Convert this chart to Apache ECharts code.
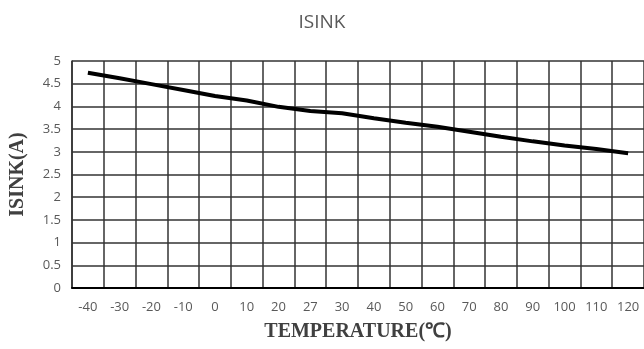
<!DOCTYPE html>
<html>
<head>
<meta charset="utf-8">
<script src="https://cdn.jsdelivr.net/npm/echarts@6/dist/echarts.min.js"></script>
<style>
  html, body { margin: 0; padding: 0; background: #fff; }
  #chart { width: 644px; height: 349px; }
</style>
</head>
<body>
<div id="chart"></div>
<script>
// 温度（℃）
const temps = ['-40', '-30', '-20', '-10', '0', '10', '20', '27', '30', '40', '50', '60', '70', '80', '90', '100', '110', '120'];
// ISINK (A)
const isink = [4.74, 4.62, 4.49, 4.36, 4.23, 4.13, 3.99, 3.9, 3.85, 3.74, 3.64, 3.55, 3.44, 3.33, 3.23, 3.14, 3.06, 2.97];

const myChart = echarts.init(document.getElementById('chart'));
const option = {
  animation: false,
  title: {
    text: 'ISINK',
    left: 'center',
    top: 8,
    textStyle: { fontFamily: 'Open Sans', fontSize: 19, fontWeight: 'normal', color: '#595959' }
  },
  grid: { left: 68, right: 0, top: 61, bottom: 61 },
  xAxis: {
    type: 'category',
    data: temps,
    boundaryGap: true,
    name: 'TEMPERATURE(℃)',
    nameLocation: 'middle',
    nameGap: 34,
    nameTextStyle: { fontFamily: 'Liberation Serif', fontSize: 20, fontWeight: 'bold', color: '#404040' },
    axisLine: { lineStyle: { color: '#000', width: 2 } },
    axisTick: { show: false },
    axisLabel: { margin: 13, fontFamily: 'Open Sans', fontSize: 13, color: '#595959', interval: 0 },
    splitLine: { show: true, interval: 0, lineStyle: { color: '#333', width: 1.5 } }
  },
  yAxis: {
    type: 'value',
    min: 0,
    max: 5,
    interval: 0.5,
    name: 'ISINK(A)',
    nameLocation: 'middle',
    nameGap: 44,
    nameTextStyle: { fontFamily: 'Liberation Serif', fontSize: 20, fontWeight: 'bold', color: '#404040' },
    axisLine: { show: true, lineStyle: { color: '#333', width: 1.5 } },
    axisTick: { show: false },
    axisLabel: { margin: 11, fontFamily: 'Open Sans', fontSize: 13, color: '#595959' },
    splitLine: { show: true, lineStyle: { color: '#333', width: 1.5 } }
  },
  series: [
    {
      name: 'ISINK',
      type: 'line',
      data: isink,
      showSymbol: false,
      lineStyle: { color: '#000', width: 4 }
    }
  ]
};
myChart.setOption(option);
</script>
</body>
</html>
